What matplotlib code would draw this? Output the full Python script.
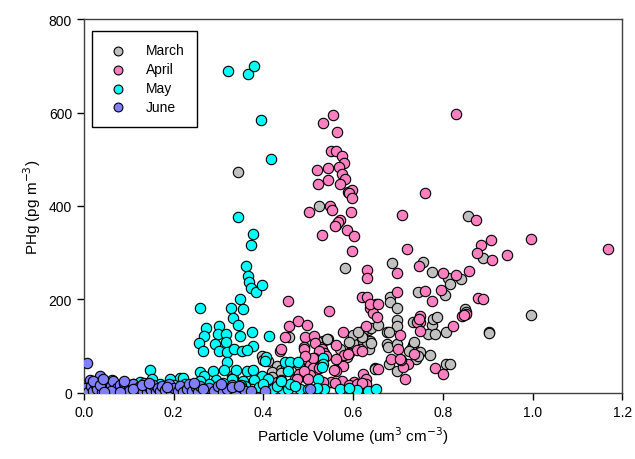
import numpy as np
import matplotlib
matplotlib.use('Agg')
import matplotlib.pyplot as plt

plt.rcParams['font.family'] = ['Liberation Sans', 'DejaVu Sans']

# March (grey)
march_x = [0.344, 0.525, 0.582, 0.857, 0.686, 0.755, 0.777, 0.812, 0.816, 0.840,
           0.806, 0.745, 0.682, 0.682, 0.697, 0.849, 0.851, 0.697, 0.697, 0.733,
           0.775, 0.779, 0.786, 0.768, 0.783, 0.807, 0.902, 0.889, 0.996, 0.903,
           0.675, 0.634, 0.619, 0.638, 0.636, 0.623, 0.608, 0.597, 0.545, 0.534,
           0.457, 0.543, 0.676, 0.678, 0.734, 0.749, 0.771, 0.679, 0.697, 0.808,
           0.816, 0.650, 0.586, 0.437, 0.623, 0.641, 0.615, 0.600, 0.649, 0.398,
           0.400, 0.410, 0.430, 0.440, 0.420, 0.450, 0.460, 0.440, 0.331, 0.333,
           0.420, 0.730, 0.735, 0.740, 0.745, 0.725, 0.697, 0.679, 0.520, 0.527,
           0.620, 0.600, 0.640, 0.655, 0.590, 0.610, 0.570, 0.480]
march_y = [472, 401, 267, 379, 277, 281, 258, 247, 233, 244,
           210, 215, 205, 194, 181, 180, 173, 157, 144, 151,
           145, 158, 162, 126, 126, 130, 130, 289, 167, 128,
           131, 135, 117, 112, 94, 105, 108, 101, 115, 112,
           119, 115, 105, 98, 103, 88, 82, 62, 48, 62,
           61, 53, 76, 41, 133, 108, 94, 108, 51, 80,
           70, 68, 58, 50, 45, 55, 64, 43, 37, 33,
           34, 95, 110, 72, 80, 90, 105, 130, 111, 98,
           120, 125, 140, 145, 110, 130, 95, 60]

# April (pink)
april_x = [0.555, 0.534, 0.565, 0.550, 0.562, 0.576, 0.579, 0.568, 0.519, 0.545,
           0.576, 0.583, 0.522, 0.544, 0.571, 0.589, 0.597, 0.592, 0.597, 0.548,
           0.552, 0.501, 0.595, 0.563, 0.571, 0.586, 0.603, 0.531, 0.567, 0.560,
           0.829, 0.760, 0.708, 0.874, 0.908, 0.885, 0.877, 0.910, 0.942, 0.997,
           1.168, 0.720, 0.597, 0.748, 0.801, 0.829, 0.858, 0.630, 0.630, 0.697,
           0.760, 0.775, 0.795, 0.879, 0.889, 0.697, 0.621, 0.630, 0.652, 0.638,
           0.644, 0.654, 0.638, 0.656, 0.456, 0.546, 0.458, 0.478, 0.498, 0.629,
           0.578, 0.493, 0.512, 0.515, 0.490, 0.563, 0.530, 0.535, 0.540, 0.525,
           0.580, 0.592, 0.608, 0.619, 0.589, 0.578, 0.560, 0.563, 0.563, 0.504,
           0.514, 0.510, 0.510, 0.701, 0.749, 0.749, 0.743, 0.747, 0.750, 0.822,
           0.842, 0.852, 0.847, 0.736, 0.723, 0.712, 0.707, 0.684, 0.705, 0.705,
           0.655, 0.716, 0.783, 0.800, 0.623, 0.629, 0.602, 0.629, 0.437, 0.439,
           0.491, 0.470, 0.489, 0.550, 0.575, 0.591, 0.609, 0.534, 0.504, 0.448,
           0.493, 0.558, 0.525, 0.480, 0.490, 0.500, 0.430, 0.440, 0.474, 0.620,
           0.560]
april_y = [594, 577, 559, 517, 518, 506, 492, 483, 478, 481,
           468, 458, 448, 456, 446, 429, 435, 428, 417, 401,
           391, 387, 387, 360, 369, 349, 336, 339, 365, 358,
           597, 427, 381, 369, 327, 317, 299, 284, 295, 329,
           307, 307, 303, 272, 256, 252, 262, 263, 245, 257,
           219, 196, 221, 203, 200, 215, 205, 205, 190, 181,
           172, 162, 190, 190, 196, 175, 143, 153, 145, 144,
           130, 119, 122, 108, 98, 103, 95, 85, 80, 90,
           81, 86, 93, 90, 83, 58, 50, 48, 73, 60,
           74, 75, 53, 94, 165, 151, 151, 158, 132, 143,
           165, 169, 167, 83, 61, 55, 71, 73, 73, 124,
           51, 30, 53, 41, 41, 30, 23, 19, 90, 94,
           94, 30, 37, 23, 25, 18, 19, 24, 38, 119,
           80, 49, 53, 40, 47, 30, 23, 28, 30, 22,
           22]

# May (cyan)
may_x = [0.321, 0.366, 0.379, 0.395, 0.417, 0.344, 0.376, 0.372, 0.361, 0.366,
         0.368, 0.372, 0.384, 0.396, 0.349, 0.355, 0.329, 0.332, 0.343, 0.348,
         0.375, 0.413, 0.259, 0.273, 0.268, 0.257, 0.266, 0.301, 0.299, 0.317,
         0.293, 0.317, 0.301, 0.318, 0.335, 0.353, 0.377, 0.363, 0.407, 0.404,
         0.448, 0.459, 0.478, 0.456, 0.532, 0.532, 0.530, 0.522, 0.340, 0.363,
         0.376, 0.396, 0.411, 0.330, 0.355, 0.380, 0.260, 0.268, 0.288, 0.294,
         0.318, 0.312, 0.147, 0.214, 0.221, 0.062, 0.110, 0.125, 0.192, 0.151,
         0.170, 0.200, 0.230, 0.250, 0.348, 0.374, 0.421, 0.441, 0.456, 0.482,
         0.536, 0.608, 0.634, 0.651, 0.300, 0.320, 0.270, 0.240, 0.210, 0.180,
         0.160, 0.140, 0.100, 0.080, 0.050, 0.500, 0.520, 0.570, 0.590, 0.390,
         0.430, 0.460, 0.330, 0.360, 0.280, 0.310, 0.350, 0.400, 0.440, 0.470,
         0.260, 0.225]
may_y = [688, 682, 700, 584, 500, 377, 341, 317, 272, 250,
         237, 225, 217, 230, 200, 180, 181, 160, 145, 122,
         130, 122, 182, 138, 122, 108, 90, 144, 126, 126,
         105, 110, 89, 87, 95, 90, 101, 93, 76, 69,
         66, 66, 66, 48, 74, 62, 55, 30, 50, 48,
         50, 37, 30, 30, 26, 28, 44, 36, 48, 28,
         66, 50, 50, 32, 33, 28, 19, 23, 30, 30,
         20, 18, 15, 20, 8, 8, 8, 8, 8, 8,
         8, 7, 5, 8, 12, 10, 8, 8, 8, 10,
         8, 12, 12, 15, 10, 8, 10, 8, 10, 12,
         15, 20, 5, 15, 20, 22, 18, 20, 25, 15,
         25, 20]

# June (blue)
june_x = [0.007, 0.013, 0.036, 0.005, 0.010, 0.015, 0.020, 0.025, 0.030, 0.040,
          0.045, 0.050, 0.055, 0.060, 0.065, 0.070, 0.075, 0.080, 0.085, 0.090,
          0.095, 0.100, 0.105, 0.110, 0.115, 0.120, 0.125, 0.130, 0.135, 0.140,
          0.145, 0.150, 0.155, 0.160, 0.165, 0.170, 0.175, 0.180, 0.190, 0.195,
          0.200, 0.210, 0.215, 0.220, 0.230, 0.235, 0.240, 0.250, 0.255, 0.260,
          0.270, 0.280, 0.290, 0.300, 0.310, 0.320, 0.330, 0.340, 0.350, 0.360,
          0.372, 0.404, 0.504, 0.330, 0.020, 0.035, 0.060, 0.045, 0.100, 0.080,
          0.110, 0.130, 0.145, 0.043, 0.090, 0.185, 0.245, 0.265, 0.305, 0.345]
june_y = [64, 28, 36, 10, 3, 15, 5, 20, 8, 2,
          12, 22, 5, 15, 25, 3, 10, 18, 5, 22,
          8, 14, 3, 20, 9, 4, 16, 7, 22, 3,
          12, 6, 18, 2, 10, 4, 14, 6, 20, 3,
          10, 5, 15, 2, 8, 20, 4, 12, 3, 16,
          6, 10, 4, 14, 3, 8, 18, 5, 12, 4,
          5, 5, 8, 12, 25, 18, 5, 3, 5, 3,
          8, 18, 22, 30, 26, 12, 22, 8, 20, 15]

series = [
    ('March', march_x, march_y, '#C0C0C0'),
    ('April', april_x, april_y, '#FF80C0'),
    ('May', may_x, may_y, '#00FFFF'),
    ('June', june_x, june_y, '#8080FF'),
]

fig = plt.figure(figsize=(6.35, 4.6), dpi=100)
ax = fig.add_axes([0.132, 0.1435, 0.848, 0.813])

for name, xs, ys, col in series:
    ax.scatter(xs, ys, s=56, c=col, edgecolors='black', linewidths=0.8,
               label=name, zorder=3)

ax.set_xlim(0, 1.2)
ax.set_ylim(0, 800)
ax.set_xticks(np.arange(0, 1.21, 0.2))
ax.set_xticklabels(['0.0', '0.2', '0.4', '0.6', '0.8', '1.0', '1.2'])
ax.set_yticks(np.arange(0, 801, 200))
ax.tick_params(direction='out', length=5, width=1, labelsize=10)
for sp in ax.spines.values():
    sp.set_linewidth(1)
    sp.set_color('#404040')

ax.set_xlabel('Particle Volume (um$^3$ cm$^{-3}$)', fontsize=11)
ax.set_ylabel('PHg (pg m$^{-3}$)', fontsize=11)

leg = ax.legend(loc='upper left', bbox_to_anchor=(0.015, 0.968), borderaxespad=0,
                fontsize=10, fancybox=False, edgecolor='black', framealpha=1,
                handletextpad=1.0, borderpad=0.9, labelspacing=0.35,
                markerscale=0.85)
leg.get_frame().set_linewidth(1)

fig.savefig('out.png', dpi=100)
